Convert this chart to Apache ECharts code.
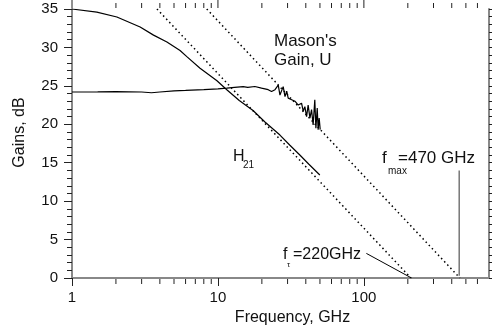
<!doctype html>
<html lang="en">
  <head>
    <meta charset="UTF-8" />
    <title>Gains vs frequency</title>
    <script src="https://fastly.jsdelivr.net/npm/echarts@6/dist/echarts.min.js"></script>
    <style type="text/css">
      * {
        margin: 0;
        padding: 0;
      }
      html,
      body,
      #chart {
        width: 100%;
        height: 100%;
        overflow: hidden;
        background: #fff;
      }
    </style>
  </head>
  <body>
    <div id="chart"></div>
  </body>
  <script>
    // values (frequency in GHz, gain in dB)
    const h21Freq = [1, 1.48, 2.03, 2.93, 3.62, 4.47, 5.5, 6.12, 7.54, 9.8, 11.5, 14, 17.4, 21, 26.6, 31, 36.4, 42, 49.9];
    const h21Gain = [35.0, 34.6, 33.96, 32.66, 31.6, 30.7, 29.6, 28.8, 27.3, 25.7, 24.5, 23.1, 21.8, 20.3, 18.6, 17.3, 16.0, 14.8, 13.4];

    const masonFreq = [1, 1.5, 2, 3, 3.5, 4, 5, 6, 8, 10, 11.5, 13, 14.9, 16, 17.9, 19.9, 22.1, 23.3, 24.6, 25.9,
      26.6, 28.0, 28.8, 29.6, 30.3, 32.0, 33.7, 35.5, 37.4, 38.4, 39.4, 40.5, 41.5, 42.7, 43.8, 44.9, 46.1, 46.9,
      47.9, 48.6, 49.4, 50.2];
    const masonGain = [24.2, 24.22, 24.25, 24.2, 24.1, 24.2, 24.35, 24.4, 24.5, 24.6, 24.7, 24.8, 24.9, 24.8, 24.92,
      24.7, 24.5, 24.27, 24.5, 25.1, 23.8, 24.9, 23.6, 24.3, 23.4, 23.2, 23.0, 22.5, 22.75, 21.7, 22.3, 21.0, 22.5,
      20.8, 21.9, 19.9, 23.2, 19.5, 22.1, 19.3, 20.8, 19.3];

    // -20 dB/decade extrapolations
    const ftAsymptote = [[3.82, 35], [210, 0]];
    const fmaxAsymptote = [[8.38, 35], [455, 0]];
    // leader lines for the annotations
    const ftLeader = [[104, 3.2], [212, 0]];
    const fmaxLeader = [[450, 14], [450, 0.3]];

    const majorFreqTicks = [1, 10, 100];
    const minorFreqTicks = [2, 3, 4, 5, 6, 7, 8, 9, 20, 30, 40, 50, 60, 70, 80, 90, 200, 300, 400, 500, 600];

    const font = 'Liberation Sans, Arial, sans-serif';
    const zip = (xs, ys) => xs.map((x, i) => [x, ys[i]]);

    const axisLine = { show: true, lineStyle: { color: '#888', width: 2 } };
    const tickStyle = { color: '#222', width: 1 };

    function freqAxis(position, labelled) {
      return {
        type: 'log',
        logBase: 10,
        min: 1,
        max: 720,
        position: position,
        axisLine: axisLine,
        axisTick: { show: labelled, inside: false, length: 8, lineStyle: tickStyle, customValues: majorFreqTicks },
        axisLabel: {
          show: labelled,
          customValues: majorFreqTicks,
          fontSize: 15,
          color: '#111',
          fontFamily: font,
          margin: 12,
        },
        splitLine: { show: false },
        minorTick: { show: false },
      };
    }

    const xBottom = freqAxis('bottom', true);
    xBottom.name = 'Frequency, GHz';
    xBottom.nameLocation = 'middle';
    xBottom.nameGap = 32;
    xBottom.nameTextStyle = { fontSize: 16, color: '#111', fontFamily: font, padding: [0, 0, 0, 24] };

    function gainAxis(position, labelled) {
      return {
        type: 'value',
        min: 0,
        max: 35,
        interval: 5,
        position: position,
        axisLine: axisLine,
        axisTick: { show: true, inside: false, length: 8, lineStyle: tickStyle },
        minorTick: { show: true, splitNumber: 5, length: 5, lineStyle: tickStyle },
        axisLabel: {
          show: true,
          fontSize: labelled ? 15 : 1,
          color: labelled ? '#111' : 'rgba(0,0,0,0)',
          fontFamily: font,
          margin: 14,
        },
        splitLine: { show: false },
      };
    }

    const yLeft = gainAxis('left', true);
    yLeft.name = 'Gains, dB';
    yLeft.nameLocation = 'middle';
    yLeft.nameGap = 44;
    yLeft.nameTextStyle = { fontSize: 16, color: '#111', fontFamily: font, padding: [0, 0, 0, 22] };

    const solid = { color: '#000', width: 1.2 };
    const dotted = { color: '#000', width: 1.5, type: [1.5, 3] };

    function line(data, style) {
      return {
        type: 'line',
        xAxisIndex: 0,
        yAxisIndex: 0,
        data: data,
        showSymbol: false,
        symbol: 'none',
        lineStyle: style,
        silent: true,
      };
    }

    // frequency ticks drawn outward from the top (and optionally bottom) frame
    function freqTicks(ticks, len, bottomToo) {
      return {
        type: 'custom',
        xAxisIndex: 0,
        yAxisIndex: 0,
        clip: false,
        silent: true,
        data: ticks.map((f) => [f, 0]),
        renderItem: function (params, api) {
          const f = api.value(0);
          const b = api.coord([f, 0]);
          const t = api.coord([f, 35]);
          const style = { stroke: '#222', lineWidth: 1 };
          const children = [
            { type: 'line', shape: { x1: t[0], y1: t[1] - 1, x2: t[0], y2: t[1] - 1 - len }, style: style },
          ];
          if (bottomToo) {
            children.push({ type: 'line', shape: { x1: b[0], y1: b[1] + 1, x2: b[0], y2: b[1] + 1 + len }, style: style });
          }
          return { type: 'group', children: children };
        },
      };
    }

    const chart = echarts.init(document.getElementById('chart'));
    chart.setOption({
      animation: false,
      grid: { left: 72, right: 3, top: 9, bottom: 56, containLabel: false, outerBoundsMode: 'none' },
      xAxis: [xBottom, freqAxis('top', false)],
      yAxis: [yLeft, gainAxis('right', false)],
      series: [
        freqTicks(minorFreqTicks, 5, true),
        freqTicks(majorFreqTicks, 8, false),
        line(ftAsymptote, dotted),
        line(fmaxAsymptote, dotted),
        line(zip(h21Freq, h21Gain), solid),
        line(zip(masonFreq, masonGain), solid),
        line(ftLeader, { color: '#000', width: 1 }),
        line(fmaxLeader, { color: '#777', width: 1.5 }),
      ],
      graphic: [
        { type: 'text', left: 274, top: 32, style: { text: "Mason's\nGain, U", fontSize: 17, lineHeight: 19, fontFamily: font, fill: '#111' } },
        { type: 'text', left: 233, top: 149, style: { text: 'H', fontSize: 16, fontFamily: font, fill: '#111' } },
        { type: 'text', left: 243, top: 160, style: { text: '21', fontSize: 10, fontFamily: font, fill: '#111' } },
        { type: 'text', left: 382, top: 150, style: { text: 'f', fontSize: 17, fontFamily: font, fill: '#111' } },
        { type: 'text', left: 388, top: 166, style: { text: 'max', fontSize: 10, fontFamily: font, fill: '#111' } },
        { type: 'text', left: 398, top: 150, style: { text: '=470 GHz', fontSize: 17, fontFamily: font, fill: '#111' } },
        { type: 'text', left: 283, top: 247, style: { text: 'f', fontSize: 16, fontFamily: font, fill: '#111' } },
        { type: 'text', left: 287, top: 261, style: { text: '\u03c4', fontSize: 8, fontFamily: font, fill: '#111' } },
        { type: 'text', left: 293, top: 247, style: { text: '=220GHz', fontSize: 16, fontFamily: font, fill: '#111' } },
      ],
    });
  </script>
</html>
